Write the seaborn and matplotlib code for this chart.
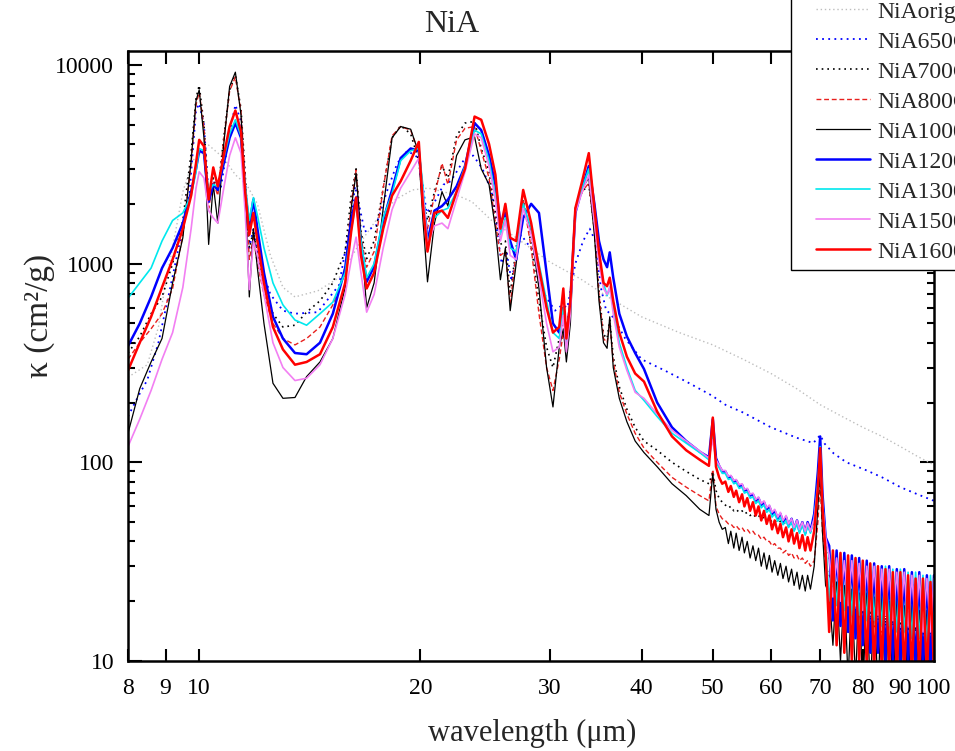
import numpy as np
import matplotlib
matplotlib.use("Agg")
import matplotlib.pyplot as plt
import matplotlib.patches as mpatches
import seaborn as sns
from matplotlib.ticker import FixedLocator, NullLocator, FixedFormatter

# ---------------- data ----------------
LABELS = ["NiAorig", "NiA650C", "NiA700C", "NiA800C", "NiA1000C",
          "NiA1200C", "NiA1300C", "NiA1500C", "NiA1600C"]
X_TICKS = [8, 9, 10, 20, 30, 40, 50, 60, 70, 80, 90, 100]
Y_TICKS = [10, 100, 1000, 10000]

ORIG_WL = [8.0, 8.5, 8.8, 9.0, 9.2, 9.5, 9.8, 10.3, 10.8, 11.2,
           11.6, 12.0, 12.5, 13.0, 13.5, 14.5, 15.5, 16.5, 17.5, 18.5,
           19.5, 20.5, 21.5, 22.5, 23.5, 25.0, 27.0, 30.0, 33.0, 36.0,
           40.0, 45.0, 50.0, 55.0, 60.0, 65.0, 70.0, 75.0, 80.0, 85.0,
           90.0, 95.0, 100.0]
ORIG = [268, 310, 480, 800, 1200, 2300, 3300, 3950, 3400, 2800,
        2500, 2000, 1100, 760, 680, 730, 850, 1250, 1700, 2100,
        2350, 2400, 2300, 2200, 2050, 1650, 1350, 1020, 840, 680,
        540, 450, 390, 330, 280, 235, 195, 170, 150, 135,
        120, 107, 97]

A650_WL = [8.0, 8.25, 8.5, 8.8, 9.1, 9.4, 9.7, 9.9, 10.0, 10.15,
           10.3, 10.5, 10.7, 11.0, 11.2, 11.4, 11.55, 11.7, 11.85, 12.1,
           12.5, 13.0, 13.5, 14.5, 15.5, 16.0, 16.3, 16.8, 17.4, 18.0,
           18.6, 19.2, 19.9, 20.4, 21.0, 21.5, 22.0, 23.0, 23.6, 24.3,
           25.0, 25.5, 25.8, 26.2, 26.6, 27.4, 28.5, 29.5, 30.5, 31.2,
           31.7, 32.5, 33.3, 34.0, 34.6, 35.2, 35.8, 36.3, 37.0, 38.0,
           40.0, 43.0, 46.0, 49.5, 50.3, 52.0, 55.0, 60.0, 65.0, 68.5,
           70.0, 71.0, 73.0, 76.0, 81.0, 85.0, 90.0, 95.0, 100.0]
A650 = [170, 213, 260, 400, 710, 1260, 2260, 5900, 6400, 5000,
        2200, 2600, 2400, 4600, 6300, 5200, 2600, 1200, 1500, 1000,
        700, 580, 560, 570, 780, 1500, 2450, 1450, 1550, 2300,
        3200, 3700, 3400, 1800, 2100, 2500, 2600, 3400, 3500, 3000,
        2300, 1350, 1000, 1150, 820, 1400, 1150, 700, 580, 620,
        600, 1000, 1300, 1500, 1300, 760, 580, 560, 500, 420,
        330, 290, 255, 220, 212, 195, 178, 150, 133, 125,
        137, 124, 111, 100, 91, 84, 75, 69, 64]

# shared wavelength grid (8-40 um) for the annealed samples
WL = [8.0, 8.3, 8.6, 8.9, 9.2, 9.5, 9.75, 9.9, 10.0, 10.15,
      10.3, 10.45, 10.6, 10.8, 11.0, 11.2, 11.4, 11.55, 11.7, 11.85,
      12.0, 12.25, 12.6, 13.0, 13.5, 14.0, 14.6, 15.2, 15.8, 16.1,
      16.35, 16.6, 16.9, 17.3, 17.8, 18.3, 18.8, 19.4, 19.9, 20.15,
      20.45, 20.9, 21.4, 21.8, 22.4, 23.0, 23.7, 24.2, 24.8, 25.3,
      25.7, 26.1, 26.5, 27.0, 27.6, 28.3, 29.0, 29.7, 30.3, 30.9,
      31.3, 31.6, 32.0, 32.5, 33.2, 33.9, 34.5, 35.0, 35.5, 35.9,
      36.2, 36.6, 37.3, 38.2, 39.2]
# shared wavelength grid (40-100 um)
TAIL_WL = [40.3, 42.0, 44.0, 46.0, 48.0, 49.4, 50.0, 50.5, 51.0, 51.5,
           52.0, 52.5, 52.9, 53.4, 53.8, 54.3, 54.8, 55.2, 55.7, 56.2,
           56.7, 57.2, 57.7, 58.2, 58.7, 59.2, 59.7, 60.2, 60.7, 61.3,
           61.8, 62.3, 62.9, 63.4, 64.0, 64.5, 65.1, 65.6, 66.2, 66.8,
           67.3, 67.9, 68.7, 69.5, 70.0, 70.5, 71.2, 72.0, 72.85, 73.7,
           74.6, 75.5, 76.4, 77.3, 78.2, 79.1, 80.0, 81.0, 81.9, 82.9,
           83.9, 84.9, 85.9, 86.9, 87.9, 89.0, 90.0, 91.1, 92.2, 93.3,
           94.4, 95.5, 96.6, 97.8, 98.9, 100.0]

A700 = [355, 430, 560, 680, 1000, 1650, 3600, 6800, 7900, 5000,
        2000, 2700, 2300, 4300, 7500, 8900, 6000, 2800, 1200, 1450,
        1100, 800, 560, 480, 490, 570, 650, 800, 1150, 2200,
        3000, 1450, 1060, 1300, 2400, 4300, 4950, 4500, 3300, 2100,
        1650, 2300, 3100, 2700, 4400, 5100, 5200, 3800, 2900, 1800,
        1250, 1300, 700, 1200, 2100, 1250, 650, 380, 300, 420,
        520, 450, 650, 1900, 2300, 2500, 1500, 720, 440, 420,
        520, 340, 240, 185, 150]
A700_T = [128, 115, 100, 90, 82, 78, 90, 72, 66, 63,
          61, 59, 60, 57, 58, 56, 57, 55, 56, 54,
          55, 53, 54, 52, 53, 51, 52, 50, 51, 49.5,
          50.5, 49, 50, 48, 49.5, 47.5, 49, 47, 48.5, 46.5,
          48, 46, 50, 75, 110, 60, 40, 34, 22, 32,
          20, 31, 19, 30, 18, 29, 17, 28, 16, 28,
          16, 27, 15, 27, 15, 26, 14, 26, 14, 26,
          14, 25, 13, 25, 13, 24]

A800 = [330, 400, 470, 560, 750, 1400, 3200, 6300, 7300, 4800,
        1900, 2600, 2200, 4200, 7400, 8700, 5800, 2600, 1050, 1350,
        1000, 700, 500, 420, 390, 420, 480, 620, 900, 2000,
        2950, 1350, 960, 1150, 2400, 4400, 4900, 4700, 3600, 2000,
        1500, 2200, 3200, 2500, 4200, 4800, 4900, 3700, 2700, 1600,
        1100, 1150, 620, 1150, 2100, 1200, 560, 300, 230, 330,
        450, 380, 600, 1900, 2300, 2550, 1450, 700, 420, 400,
        500, 320, 225, 175, 140]
A800_T = [118, 100, 84, 75, 68, 64, 92, 60, 55, 52,
          51, 49, 49, 47, 48, 46, 47, 45, 46, 44,
          45, 43, 43, 41, 42, 40, 40, 38, 39, 37,
          37, 35, 36, 34, 35, 33, 34, 32, 33, 31,
          32, 30, 32, 50, 80, 45, 30, 27, 25, 24,
          22, 21, 20, 19, 18, 17.5, 17, 16, 15.5, 15,
          14.5, 14, 13.5, 13, 13, 12.5, 12, 12, 11.5, 11,
          11, 10.5, 10.5, 10, 10, 10]

A1000 = [140, 235, 320, 420, 800, 1350, 3300, 6600, 7500, 4300,
         1250, 2500, 1600, 4000, 7800, 9200, 5600, 2300, 680, 1500,
         950, 500, 250, 210, 212, 270, 320, 420, 760, 1900,
         2850, 1400, 600, 800, 1900, 4300, 4900, 4750, 3600, 1700,
         810, 1600, 2300, 1950, 3500, 4200, 4350, 3000, 2500, 1500,
         830, 1200, 580, 1000, 2000, 1450, 750, 300, 190, 380,
         470, 320, 500, 1900, 2400, 2700, 1400, 650, 400, 375,
         540, 300, 210, 160, 128]
A1000_T = [112, 95, 78, 68, 58, 54, 88, 58, 50, 46,
           47, 39, 45, 37, 44, 36, 42, 35, 40, 33,
           38, 32, 37, 30, 35, 29, 34, 28, 32, 27,
           31, 26, 30, 25, 29, 24, 28, 23, 27, 22.5,
           27, 23, 30, 60, 95, 45, 24, 22, 12, 25,
           10, 24, 8, 23, 8, 22, 7, 22, 7, 21,
           7, 21, 7, 20, 7, 20, 7, 19, 7, 19,
           7, 18, 7, 18, 7, 17]

A1200 = [385, 500, 680, 950, 1200, 1600, 2300, 3000, 3700, 3600,
         2050, 2500, 2350, 3200, 4300, 5100, 4300, 2300, 1550, 2100,
         1500, 900, 540, 420, 355, 350, 400, 560, 950, 1660,
         2150, 1250, 810, 970, 1650, 2350, 3400, 3800, 3700, 2200,
         1300, 1850, 1950, 2100, 2450, 3100, 5100, 4700, 3500, 2500,
         1600, 1800, 1300, 1050, 1700, 2000, 1800, 900, 500, 450,
         600, 420, 650, 1800, 2400, 3100, 2000, 1300, 1050, 960,
         1140, 850, 560, 430, 355]
A1200_T = [295, 200, 150, 128, 113, 106, 165, 105, 96, 90,
           90, 84, 85, 80, 81, 76, 77, 72, 73, 68,
           69, 64, 66, 61, 63, 58, 60, 55, 57, 52,
           55, 50, 53, 48, 52, 46, 51, 45, 50, 44,
           50, 45, 55, 90, 135, 70, 42, 38, 16, 36,
           15, 35, 14, 34, 13, 33, 12, 32, 11, 31,
           11, 30, 10, 30, 10, 29, 9.5, 29, 9.5, 28,
           9, 28, 9, 27, 9, 27]

A1300 = [670, 800, 950, 1300, 1650, 1800, 2200, 2900, 3800, 3700,
         2300, 2500, 2450, 3400, 4500, 5300, 4400, 2500, 1650, 2150,
         1750, 1200, 800, 620, 520, 490, 560, 640, 900, 1470,
         2050, 1300, 850, 1000, 1700, 2250, 3300, 3700, 3800, 2500,
         1250, 1700, 1850, 1900, 2300, 3100, 4700, 4500, 3300, 2200,
         1400, 1700, 1200, 1150, 2000, 1500, 1000, 650, 450, 420,
         600, 400, 650, 1900, 2400, 3000, 1700, 1100, 800, 690,
         760, 600, 400, 300, 230]
A1300_T = [205, 170, 140, 125, 112, 103, 140, 100, 94, 88,
           88, 82, 83, 78, 79, 74, 75, 70, 71, 66,
           67, 62, 64, 59, 61, 56, 58, 53, 55, 50.5,
           53, 48.5, 51, 47, 50, 45, 49, 44, 48.5, 43,
           48, 44, 52, 80, 120, 65, 40, 20, 36, 19,
           35, 18, 34, 17, 33, 17, 32, 16, 31, 16,
           30, 15, 30, 15, 29, 14, 29, 14, 28, 13,
           28, 13, 27, 12, 27, 12]

A1500 = [120, 165, 230, 330, 450, 760, 1500, 2400, 2900, 2700,
         1850, 1700, 1600, 2400, 3500, 4300, 3600, 1800, 740, 1300,
         1100, 700, 400, 300, 258, 265, 310, 420, 700, 1040,
         1360, 900, 570, 700, 1200, 1870, 2400, 2900, 3400, 2300,
         1250, 1550, 1600, 1500, 2100, 2900, 4500, 4300, 3100, 2100,
         1300, 1650, 1100, 1050, 1900, 1400, 850, 500, 360, 380,
         550, 360, 560, 1800, 2300, 2800, 1600, 1000, 750, 700,
         760, 560, 380, 290, 225]
A1500_T = [210, 175, 145, 128, 114, 105, 130, 103, 97, 91,
           91, 85, 86, 81, 82, 77, 78, 73, 74, 69,
           70, 65, 67, 62, 64, 59, 61, 56, 58, 53,
           56, 51, 54, 49, 52, 47, 51, 46, 50, 45,
           49.5, 45, 52, 75, 110, 62, 42, 34, 21, 33,
           20, 32, 19, 32, 19, 31, 18, 30, 18, 30,
           17, 29, 17, 29, 16, 28, 16, 28, 15, 27,
           15, 27, 14, 26, 14, 26]

A1600 = [290, 400, 540, 760, 1050, 1500, 2200, 3200, 4200, 3900,
         2100, 3050, 2450, 3500, 4900, 5900, 4600, 2300, 1400, 1800,
         1300, 800, 480, 370, 310, 320, 350, 480, 800, 1450,
         2150, 1100, 750, 900, 1500, 2200, 2600, 3300, 4100, 2000,
         1150, 1800, 1850, 1700, 2300, 3000, 5500, 5300, 4000, 2800,
         1500, 2000, 1350, 1300, 2350, 1600, 950, 600, 450, 480,
         750, 420, 650, 1900, 2600, 3600, 1900, 1150, 800, 770,
         850, 650, 450, 340, 280]
A1600_T = [255, 180, 135, 115, 103, 96, 168, 95, 84, 78,
           80, 71, 76, 67, 72, 63, 69, 60, 66, 57,
           63, 54, 60, 51, 57, 49, 54, 46, 51, 44,
           49, 42, 47, 40, 46, 39, 44, 37, 43, 36,
           42, 36, 45, 75, 118, 60, 35, 14, 36, 12,
           35, 11, 34, 10, 33, 10, 32, 9.5, 31, 9,
           30, 9, 29, 9, 28, 8.5, 28, 8.5, 27, 8.5,
           26, 8.5, 26, 8.5, 25, 9]

# ---------------- plotting ----------------
sns.set_theme(style="ticks")
plt.rcParams["font.family"] = ["Liberation Serif", "DejaVu Serif"]

W, H = 955, 751
fig = plt.figure(figsize=(W / 100, H / 100), dpi=100)
ax = fig.add_axes([128 / W, 1 - 661 / H, (934 - 128) / W, (661 - 51) / H])

series = [
    (ORIG_WL, ORIG, "#bdbdbd", (0, (1, 2)), 1.0),
    (A650_WL, A650, "#0000ff", (0, (1, 2.4)), 1.3),
    (WL + TAIL_WL, A700 + A700_T, "#000000", (0, (1, 2.4)), 1.2),
    (WL + TAIL_WL, A800 + A800_T, "#e8201e", (0, (3.5, 2)), 1.0),
    (WL + TAIL_WL, A1000 + A1000_T, "#000000", "-", 0.9),
    (WL + TAIL_WL, A1200 + A1200_T, "#0000ff", "-", 1.8),
    (WL + TAIL_WL, A1300 + A1300_T, "#00e8ee", "-", 1.2),
    (WL + TAIL_WL, A1500 + A1500_T, "#f27ff2", "-", 1.2),
    (WL + TAIL_WL, A1600 + A1600_T, "#ff0000", "-", 1.8),
]

handles = []
for (xw, yv, col, ls, lw) in series:
    sns.lineplot(x=np.asarray(xw, float), y=np.asarray(yv, float), ax=ax,
                 color=col, linestyle=ls, linewidth=lw,
                 estimator=None, sort=False, legend=False)
    handles.append(ax.lines[-1])

ax.set_xscale("log")
ax.set_yscale("log")
ax.set_xlim(8, 100)
ax.set_ylim(10, 11760)

ax.xaxis.set_major_locator(FixedLocator(X_TICKS))
ax.xaxis.set_major_formatter(FixedFormatter([str(t) for t in X_TICKS]))
ax.xaxis.set_minor_locator(NullLocator())
ax.yaxis.set_major_locator(FixedLocator(Y_TICKS))
ax.yaxis.set_major_formatter(FixedFormatter([str(t) for t in Y_TICKS]))
minor_y = [m * 10 ** e for e in range(1, 4) for m in range(2, 10)]
ax.yaxis.set_minor_locator(FixedLocator(minor_y))

ax.tick_params(axis="both", which="both", direction="in", top=True, right=True,
               colors="black", width=1.5)
ax.tick_params(axis="x", which="major", length=9, labelsize=17, pad=12)
ax.tick_params(axis="y", which="major", length=10, labelsize=17, pad=10)
ax.tick_params(axis="y", which="minor", length=5)
for sp in ax.spines.values():
    sp.set_linewidth(1.8)
    sp.set_color("black")
ax.set_xlabel("")
ax.set_ylabel("")

fig.text(452 / W, 1 - 25 / H, "NiA", ha="center", va="center", fontsize=23)
fig.text(532 / W, 1 - 733 / H, "wavelength (μm)", ha="center", va="center",
         fontsize=22)
fig.text(40 / W, 1 - 316 / H, "κ (cm²/g)", ha="center", va="center",
         rotation=90, fontsize=24)

# legend frame (extends beyond the figure edge like the reference)
frame = mpatches.Rectangle((791 / W, 1 - 270 / H), 1.0, 0.5,
                           transform=fig.transFigure, facecolor="white",
                           edgecolor="black", linewidth=1.0, zorder=4)
fig.patches.append(frame)

leg = fig.legend(handles, LABELS, loc="upper left",
                 bbox_to_anchor=(816 / W, 1 - 1 / H),
                 bbox_transform=fig.transFigure, frameon=False,
                 fontsize=17, handlelength=2.29, handletextpad=0.3,
                 labelspacing=0.36, borderpad=0, borderaxespad=0)
leg.set_zorder(5)

fig.savefig("out.png", dpi=100)
